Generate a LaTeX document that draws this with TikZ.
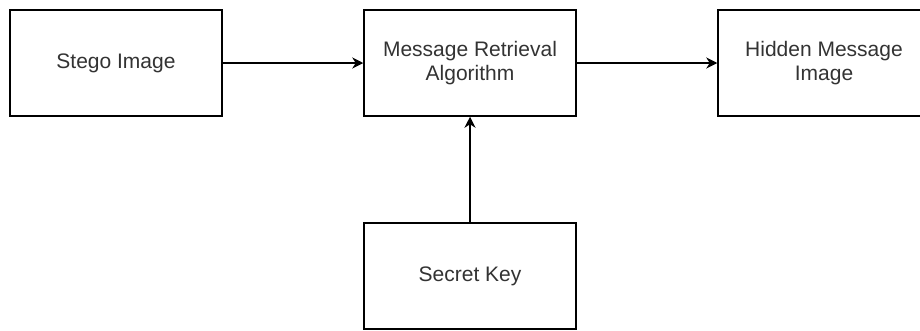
\documentclass[tikz,border=0pt]{standalone}
\usepackage{fontspec}
\setmainfont{Liberation Sans}
\usetikzlibrary{arrows.meta}
\definecolor{labelgray}{HTML}{333333}
\begin{document}
\begin{tikzpicture}[x=1pt,y=-1pt,
  blockbox/.style={draw=black, line width=1.5pt, fill=white, minimum width=212pt,
    minimum height=106pt, inner sep=0pt, align=center, text=labelgray,
    font=\fontsize{21}{24}\selectfont},
  link/.style={draw=black, line width=1.5pt,
    -{Stealth[length=11pt,width=11pt,inset=3.5pt]}}]
  \useasboundingbox (0,0) rectangle (920,330);
  \node[blockbox] (stego)  at (116,63)  {Stego Image};
  \node[blockbox] (mra)    at (470,63)  {Message Retrieval\\Algorithm};
  \node[blockbox] (hidden) at (824,63)  {Hidden Message\\Image};
  \node[blockbox] (key)    at (470,276) {Secret Key};
  \draw[link] (stego) -- (mra);
  \draw[link] (mra) -- (hidden);
  \draw[link] (key) -- (mra);
\end{tikzpicture}
\end{document}
